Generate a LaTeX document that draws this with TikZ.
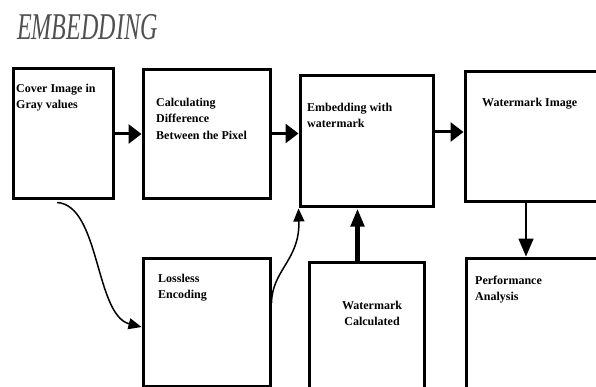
\documentclass[tikz,border=0pt]{standalone}
\usepackage{fontspec}
\setmainfont{Liberation Serif}
\usetikzlibrary{arrows.meta}
\definecolor{titlegray}{HTML}{505050}
\tikzset{
  blk/.style={draw, line width=3pt, inner sep=0pt},
  lbl/.style={font=\bfseries\fontsize{12}{16.5}\selectfont, align=left, anchor=north west, inner sep=0pt},
  arr/.style={line width=3pt, -{Triangle[length=13pt,width=19pt]}},
  thinarr/.style={line width=1.5pt, -{Triangle[length=13pt,width=11pt]}},
  downarr/.style={line width=1.6pt, -{Triangle[length=18pt,width=15pt]}},
  thickarr/.style={line width=5pt, -{Triangle[length=18pt,width=13pt]}}
}
\begin{document}
\begin{tikzpicture}[x=1pt,y=-1pt]
\useasboundingbox (0,0) rectangle (596,387);
\fill[white] (0,0) rectangle (596,387);

\node[anchor=base west, inner sep=0pt, text=titlegray] (title) at (17,40)
  {\scalebox{0.636}[1]{\fontsize{37.8}{40}\selectfont\itshape EMBEDDING}};

\node[blk, minimum width=100pt, minimum height=130pt] (b1) at (63,134) {};
\node[blk, minimum width=127pt, minimum height=129pt] (b2) at (206.5,134.5) {};
\node[blk, minimum width=133pt, minimum height=131pt] (b3) at (366.5,141.5) {};
\node[blk, minimum width=132pt, minimum height=130pt] (b4) at (531,137) {};
\node[blk, minimum width=127pt, minimum height=128pt] (b5) at (206.5,322) {};
\node[blk, minimum width=115pt, minimum height=138pt] (b6) at (366.5,331) {};
\node[blk, minimum width=131pt, minimum height=142pt] (b7) at (531.5,329) {};

\node[lbl] (t1) at (16,83.5) {Cover Image in\\Gray values};
\node[lbl] (t2) at (156,97.5) {Calculating\\Difference\\Between the Pixel};
\node[lbl] (t3) at (307,102.5) {Embedding with\\watermark};
\node[lbl] (t4) at (482,97.5) {Watermark Image};
\node[lbl] (t5) at (158,273.5) {Lossless\\Encoding};
\node[lbl, align=center, anchor=north] (t6) at (372,300.5) {Watermark\\Calculated};
\node[lbl] (t7) at (475,275.5) {Performance\\Analysis};

\draw[arr] (b1.east) -- (b1.east -| b2.west);
\draw[arr] ([yshift=1pt]b2.east) -- ([yshift=1pt]b2.east -| b3.west);
\draw[arr] ([yshift=5pt]b4.west -| b3.east) -- ([yshift=5pt]b4.west);
\draw[thickarr] ([xshift=-9pt]b6.north) -- ([xshift=-9pt]b6.north |- b3.south);
\draw[downarr] ([xshift=-5pt]b4.south) -- ([xshift=-5pt]b4.south |- b7.north);

\draw[thinarr] ([xshift=-6pt,yshift=-2pt]b1.south) .. controls (100,205) and (95,315) .. ([yshift=-5pt]b5.west);
\draw[thinarr] ([yshift=19pt]b5.east) .. controls (272,270) and (300,260) .. (b3.south west);
\end{tikzpicture}
\end{document}
